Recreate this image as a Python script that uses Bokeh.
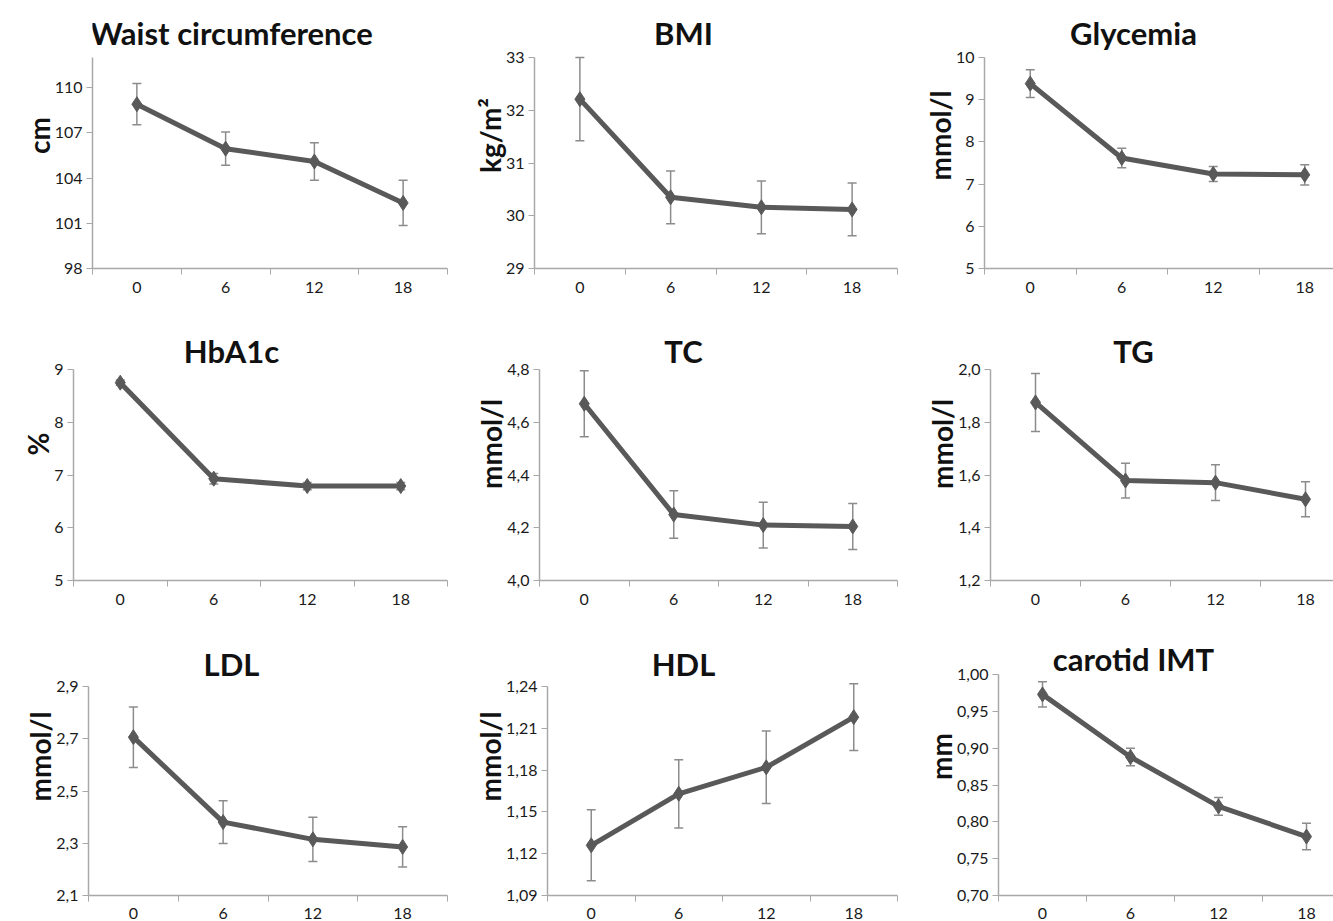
from bokeh.plotting import figure
from bokeh.layouts import column, row
from bokeh.models import (ColumnDataSource, Whisker, TeeHead, FixedTicker,
                          CustomJSTickFormatter, Range1d)
from bokeh.core.properties import value
from bokeh.embed import file_html
from bokeh.resources import INLINE

# ---------------- data ----------------
months = ["0", "6", "12", "18"]

waist = [108.9, 105.95, 105.1, 102.35]
waist_err = [1.37, 1.1, 1.24, 1.5]
bmi = [32.21, 30.35, 30.16, 30.12]
bmi_err = [0.79, 0.5, 0.5, 0.5]
glyc = [9.38, 7.62, 7.24, 7.22]
glyc_err = [0.33, 0.23, 0.18, 0.24]
hba1c = [8.75, 6.93, 6.79, 6.79]
hba1c_err = [0.05, 0.1, 0.07, 0.07]
tc = [4.67, 4.25, 4.21, 4.205]
tc_err = [0.125, 0.09, 0.087, 0.087]
tg = [1.875, 1.579, 1.571, 1.508]
tg_err = [0.11, 0.066, 0.068, 0.066]
ldl = [2.706, 2.381, 2.315, 2.286]
ldl_err = [0.116, 0.082, 0.085, 0.077]
hdl = [1.126, 1.163, 1.182, 1.218]
hdl_err = [0.0255, 0.0245, 0.026, 0.024]
imt = [0.973, 0.888, 0.821, 0.78]
imt_err = [0.017, 0.012, 0.012, 0.018]

titles = ["Waist circumference", "BMI", "Glycemia",
          "HbA1c", "TC", "TG",
          "LDL", "HDL", "carotid IMT"]
ylabels = ["cm", "kg/m²", "mmol/l",
           "%", "mmol/l", "mmol/l",
           "mmol/l", "mmol/l", "mm"]
series = [waist, bmi, glyc, hba1c, tc, tg, ldl, hdl, imt]
errors = [waist_err, bmi_err, glyc_err, hba1c_err, tc_err, tg_err, ldl_err, hdl_err, imt_err]
y_ticks = [
    [98, 101, 104, 107, 110],
    [29, 30, 31, 32, 33],
    [5, 6, 7, 8, 9, 10],
    [5, 6, 7, 8, 9],
    [4.0, 4.2, 4.4, 4.6, 4.8],
    [1.2, 1.4, 1.6, 1.8, 2.0],
    [2.1, 2.3, 2.5, 2.7, 2.9],
    [1.09, 1.12, 1.15, 1.18, 1.21, 1.24],
    [0.70, 0.75, 0.80, 0.85, 0.90, 0.95, 1.00],
]
y_limits = [(98, 112), (29, 33), (5, 10), (5, 9), (4.0, 4.8), (1.2, 2.0),
            (2.1, 2.9), (1.09, 1.24), (0.70, 1.00)]
decimals = [0, 0, 0, 0, 1, 1, 1, 2, 2]

# ---------------- layout geometry (page pixels) ----------------
COL_X = [0, 455, 901]
COL_W = [455, 446, 432]
ROW_Y = [0, 305, 615]
ROW_H = [305, 310, 306]
FRAME_LEFT = [[92, 534, 984], [73, 539, 990], [88, 547, 998]]
FRAME_TOP = [[57, 57, 57], [369, 369, 369], [686, 686, 674]]
BORDER_BOTTOM = [37, 35, 26]
FRAME_RIGHT_FULL = [447, 897, 1350]      # right end of each column's x axis
TITLE_CX = [231, 683, 1133]
TITLE_BASE = [[32, 32, 32], [350, 350, 350], [663, 663, 658]]
XLABEL_STANDOFF = [7, 7, 6]
EXT_TOP = 2   # frame is extended upward to host the panel title

LINE_COLOR = "#595959"
ERR_COLOR = "#8c8c8c"
AXIS_COLOR = "#a8a8a8"
FONT = "Lato"

rows = []
for r in range(3):
    figs = []
    for c in range(3):
        i = r * 3 + c
        fl = FRAME_LEFT[r][c]
        ft = FRAME_TOP[r][c]
        col_right = COL_X[c] + COL_W[c]
        vis_right = min(FRAME_RIGHT_FULL[c], col_right)
        full_w = FRAME_RIGHT_FULL[c] - fl
        ppx = full_w / 4.0
        x_end = -0.5 + (vis_right - fl) / ppx
        frame_bottom = ROW_Y[r] + ROW_H[r] - BORDER_BOTTOM[r]
        y0, y1 = y_limits[i]
        ppu = (frame_bottom - ft) / (y1 - y0)
        ext_top_abs = ROW_Y[r] + EXT_TOP
        y_end_ext = y1 + (ft - ext_top_abs) / ppu

        p = figure(width=COL_W[c], height=ROW_H[r], output_backend="svg",
                   toolbar_location=None, x_range=Range1d(-0.5, x_end),
                   y_range=Range1d(y0, y_end_ext),
                   min_border_left=fl - COL_X[c],
                   min_border_right=col_right - vis_right,
                   min_border_top=EXT_TOP, min_border_bottom=BORDER_BOTTOM[r])
        p.outline_line_color = None
        p.xgrid.visible = False
        p.ygrid.visible = False
        p.background_fill_color = "white"
        p.border_fill_color = "white"

        xs = list(range(len(months)))
        vals = series[i]
        errs = errors[i]
        src = ColumnDataSource(dict(
            x=xs, y=vals,
            upper=[v + e for v, e in zip(vals, errs)],
            lower=[v - e for v, e in zip(vals, errs)],
        ))
        wh = Whisker(source=src, base="x", upper="upper", lower="lower",
                     dimension="height", line_color=ERR_COLOR, line_width=1.5,
                     upper_head=TeeHead(size=9, line_color=ERR_COLOR, line_width=1.5),
                     lower_head=TeeHead(size=9, line_color=ERR_COLOR, line_width=1.5))
        p.add_layout(wh)
        p.line("x", "y", source=src, line_width=5, line_color=LINE_COLOR,
               line_join="round")
        p.scatter("x", "y", source=src, marker="diamond", size=15,
                  fill_color=LINE_COLOR, line_color=LINE_COLOR)

        # x axis: labels at category centres, ticks at boundaries
        xa = p.xaxis[0]
        xa.ticker = FixedTicker(ticks=xs, minor_ticks=[-0.5, 0.5, 1.5, 2.5, 3.5])
        xa.formatter = CustomJSTickFormatter(args=dict(labels=months),
                                             code="return labels[Math.round(tick)];")
        xa.major_tick_out = 0
        xa.major_tick_in = 0
        xa.minor_tick_out = 6
        xa.minor_tick_in = 0
        xa.minor_tick_line_color = AXIS_COLOR
        xa.axis_line_color = AXIS_COLOR
        xa.axis_line_width = 1.5
        xa.major_label_standoff = XLABEL_STANDOFF[r]
        xa.major_label_text_font = FONT
        xa.major_label_text_font_size = "16px"
        xa.major_label_text_color = "#1a1a1a"

        # y axis (line limited to the value range; frame extends above for the title)
        ya = p.yaxis[0]
        ya.bounds = (y0, y1)
        ya.ticker = FixedTicker(ticks=y_ticks[i])
        d = decimals[i]
        ya.formatter = CustomJSTickFormatter(code=f"return tick.toFixed({d}).replace('.', ',');")
        ya.major_tick_out = 6
        ya.major_tick_in = 0
        ya.major_tick_line_color = AXIS_COLOR
        ya.minor_tick_line_color = None
        ya.axis_line_color = AXIS_COLOR
        ya.axis_line_width = 1.5
        ya.major_label_standoff = 4
        ya.major_label_text_font = FONT
        ya.major_label_text_font_size = "16px"
        ya.major_label_text_color = "#1a1a1a"
        ya.axis_label = ylabels[i]
        ya.axis_label_text_font = FONT
        ya.axis_label_text_font_style = "bold"
        ya.axis_label_text_font_size = "28px"
        ya.axis_label_text_color = "#111111"
        ya.axis_label_standoff = -4

        # panel title
        tx = -0.5 + (TITLE_CX[c] - fl) / ppx
        ty = y1 + (ft - TITLE_BASE[r][c]) / ppu
        p.text(x=[tx], y=[ty], text=[titles[i]], text_align="center",
               text_baseline="alphabetic", text_font=value(FONT),
               text_font_style="bold", text_font_size="31px",
               text_color="#111111")
        figs.append(p)
    rows.append(row(*figs, spacing=0))

layout = column(*rows, spacing=0)
open("out.html", "w").write(file_html(layout, INLINE))
